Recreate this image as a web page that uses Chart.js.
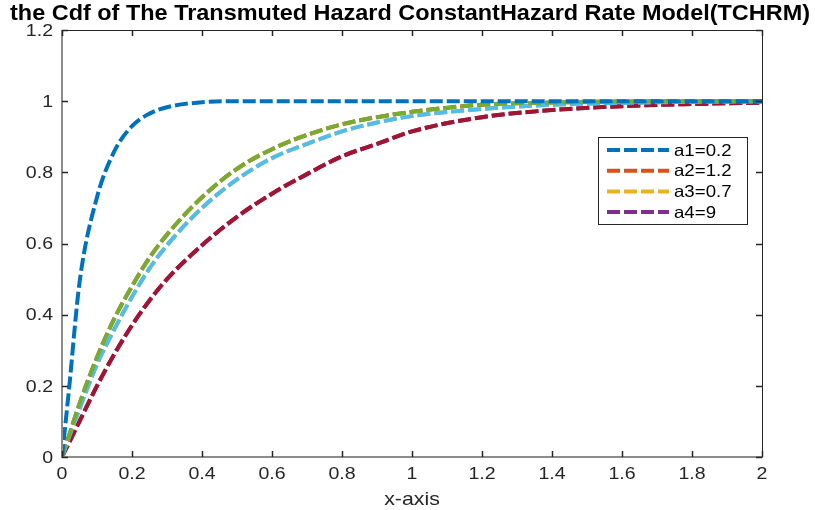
<!DOCTYPE html>
<html>
<head>
<meta charset="utf-8">
<script src="https://cdn.jsdelivr.net/npm/chart.js@4"></script>
<style>
  html, body { margin: 0; padding: 0; background: #fff; }
  #wrap { width: 815px; height: 510px; }
</style>
</head>
<body>
<div id="wrap"><canvas id="cdfChart" width="815" height="510"></canvas></div>
<script>
// x positions
const xValues = [0, 0.02, 0.05, 0.1, 0.15, 0.2, 0.25, 0.3, 0.4, 0.5, 0.6, 0.7, 0.8, 0.9, 1.0, 1.2, 1.4, 1.6, 1.8, 2.0];

// curve values
const blueValues  = [0, 0.19, 0.49, 0.73, 0.86, 0.93, 0.965, 0.983, 0.997, 1, 1, 1, 1, 1, 1, 1, 1, 1, 1, 1];
const greenValues = [0, 0.06, 0.15, 0.28, 0.39, 0.48, 0.56, 0.625, 0.73, 0.81, 0.865, 0.905, 0.935, 0.955, 0.97, 0.99, 0.996, 0.999, 1, 1];
const lightBlueValues = [0, 0.055, 0.135, 0.26, 0.36, 0.45, 0.53, 0.595, 0.70, 0.78, 0.84, 0.88, 0.915, 0.94, 0.958, 0.978, 0.99, 0.995, 0.998, 0.999];
const redValues   = [0, 0.04, 0.10, 0.20, 0.29, 0.37, 0.44, 0.50, 0.595, 0.675, 0.74, 0.795, 0.845, 0.88, 0.915, 0.955, 0.975, 0.986, 0.992, 0.996];

const legendLabels = ['a1=0.2', 'a2=1.2', 'a3=0.7', 'a4=9'];
const xTicks = [0, 0.2, 0.4, 0.6, 0.8, 1, 1.2, 1.4, 1.6, 1.8, 2];
const yTicks = [0, 0.2, 0.4, 0.6, 0.8, 1, 1.2];
const titleText = 'the Cdf of The Transmuted Hazard ConstantHazard Rate Model(TCHRM)';
const xTitleText = 'x-axis';

const FONT = '"Liberation Sans", Arial, Helvetica, sans-serif';
const STRETCH = 1.15; // the reference text is a bit wide, like a stretched Helvetica

function toPoints(values) {
    return values.map((v, i) => ({ x: xValues[i], y: v }));
}

function makeLine(label, color, values, order, inLegend) {
    return {
        label: label,
        data: toPoints(values),
        borderColor: color,
        backgroundColor: color,
        borderWidth: 4,
        borderDash: [13, 4],
        pointRadius: 0,
        cubicInterpolationMode: 'monotone',
        fill: false,
        order: order,
        inLegend: inLegend,
    };
}

// draw text stretched horizontally around its anchor
function wideText(ctx, text, x, y, align, sx) {
    ctx.save();
    ctx.translate(x, y);
    ctx.scale(sx, 1);
    ctx.textAlign = align;
    ctx.fillText(text, 0, 0);
    ctx.restore();
}

// legend inside the plot, MATLAB-like box
const insideLegend = {
    id: 'insideLegend',
    afterDraw(chart) {
        const ctx = chart.ctx;
        const x0 = 598, y0 = 137, w = 149, h = 87;
        ctx.save();
        ctx.fillStyle = '#fff';
        ctx.fillRect(x0, y0, w, h);
        ctx.strokeStyle = '#262626';
        ctx.lineWidth = 1;
        ctx.strokeRect(x0 + 0.5, y0 + 0.5, w, h);
        const items = chart.data.datasets.filter(d => d.inLegend);
        items.forEach((d, i) => {
            const y = y0 + 13 + i * 20.7;
            ctx.strokeStyle = d.borderColor;
            ctx.lineWidth = 4;
            ctx.setLineDash([13, 4]);
            ctx.beginPath();
            ctx.moveTo(607, y);
            ctx.lineTo(669, y);
            ctx.stroke();
            ctx.setLineDash([]);
            ctx.fillStyle = '#000';
            ctx.font = '16.5px ' + FONT;
            ctx.textBaseline = 'middle';
            wideText(ctx, d.label, 674, y + 1, 'left', 1.13);
        });
        ctx.restore();
    }
};

// box, inward ticks on all four sides, tick labels and titles
const matlabAxes = {
    id: 'matlabAxes',
    afterDatasetsDraw(chart) {
        const { ctx, chartArea: a, scales } = chart;
        ctx.save();
        ctx.strokeStyle = '#262626';
        ctx.lineWidth = 1;
        ctx.beginPath();
        ctx.moveTo(a.left, a.top + 0.5); ctx.lineTo(a.right, a.top + 0.5);
        ctx.moveTo(a.right + 0.5, a.top); ctx.lineTo(a.right + 0.5, a.bottom);
        ctx.stroke();
        ctx.strokeStyle = '#8c8c8c';
        ctx.lineWidth = 2;
        ctx.beginPath();
        ctx.moveTo(a.left, a.top); ctx.lineTo(a.left, a.bottom);
        ctx.lineTo(a.right + 1, a.bottom);
        ctx.stroke();
        ctx.strokeStyle = '#262626';
        ctx.lineWidth = 1.5;
        ctx.beginPath();
        xTicks.forEach(t => {
            const px = Math.round(scales.x.getPixelForValue(t)) + 0.5;
            ctx.moveTo(px, a.bottom); ctx.lineTo(px, a.bottom - 6);
            ctx.moveTo(px, a.top); ctx.lineTo(px, a.top + 6);
        });
        yTicks.forEach(t => {
            const py = Math.round(scales.y.getPixelForValue(t)) + 0.5;
            ctx.moveTo(a.left, py); ctx.lineTo(a.left + 6, py);
            ctx.moveTo(a.right, py); ctx.lineTo(a.right - 6, py);
        });
        ctx.stroke();

        ctx.fillStyle = '#262626';
        ctx.font = '17px ' + FONT;
        ctx.textBaseline = 'middle';
        yTicks.forEach(t => {
            wideText(ctx, String(t), a.left - 9, scales.y.getPixelForValue(t) + 1, 'right', STRETCH);
        });
        xTicks.forEach(t => {
            wideText(ctx, String(t), scales.x.getPixelForValue(t), a.bottom + 17, 'center', STRETCH);
        });
        ctx.font = '19px ' + FONT;
        ctx.textBaseline = 'alphabetic';
        wideText(ctx, xTitleText, (a.left + a.right) / 2, 505, 'center', 1.12);

        ctx.fillStyle = '#000';
        ctx.font = 'bold 21.5px ' + FONT;
        const tw = ctx.measureText(titleText).width;
        wideText(ctx, titleText, 410, 20, 'center', 800 / tw);
        ctx.restore();
    }
};

function initializeChart() {
    const ctx = document.getElementById('cdfChart').getContext('2d');
    new Chart(ctx, {
        type: 'line',
        data: {
            datasets: [
                makeLine(legendLabels[0], '#0072BD', blueValues, 0, true),
                makeLine(legendLabels[1], '#D95319', greenValues, 5, true),
                makeLine(legendLabels[2], '#EDB120', lightBlueValues, 5, true),
                makeLine(legendLabels[3], '#7E2F8E', redValues, 5, true),
                makeLine('', '#77AC30', greenValues, 1, false),
                makeLine('', '#4DBEEE', lightBlueValues, 1, false),
                makeLine('', '#A2142F', redValues, 1, false),
            ],
        },
        options: {
            responsive: false,
            animation: false,
            layout: { padding: { left: 0, right: 53, top: 30, bottom: 0 } },
            plugins: {
                legend: { display: false },
                tooltip: { enabled: false },
                title: { display: false },
            },
            scales: {
                x: {
                    type: 'linear',
                    min: 0,
                    max: 2,
                    afterBuildTicks: s => { s.ticks = xTicks.map(v => ({ value: v })); },
                    afterFit: s => { s.height = 53; },
                    grid: { display: false, drawTicks: false },
                    border: { display: false },
                    ticks: { display: false },
                },
                y: {
                    type: 'linear',
                    min: 0,
                    max: 1.2,
                    afterBuildTicks: s => { s.ticks = yTicks.map(v => ({ value: v })); },
                    afterFit: s => { s.width = 62; },
                    grid: { display: false, drawTicks: false },
                    border: { display: false },
                    ticks: { display: false },
                },
            },
        },
        plugins: [matlabAxes, insideLegend],
    });
}

window.onload = initializeChart;
</script>
</body>
</html>
